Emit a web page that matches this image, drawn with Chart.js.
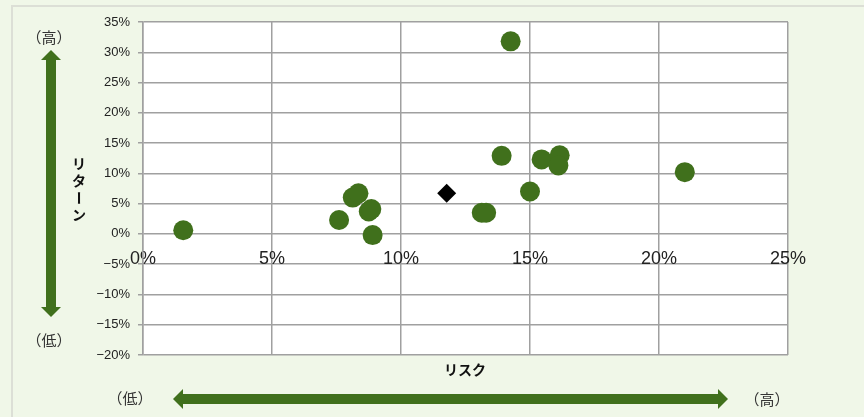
<!DOCTYPE html>
<html>
<head>
<meta charset="utf-8">
<script src="https://cdn.jsdelivr.net/npm/chart.js@4"></script>
<style>
  html, body { margin: 0; padding: 0; background: #f0f7e8; }
  #wrap { position: relative; width: 864px; height: 417px; overflow: hidden; }
  #frame { position: absolute; left: 11px; top: 5px; width: 900px; height: 500px;
           border-top: 2px solid #dcdfd6; border-left: 2px solid #dcdfd6; box-sizing: border-box; }
  canvas { position: absolute; left: 0; top: 0; }
</style>
</head>
<body>
<div id="wrap">
  <div id="frame"></div>
  <canvas id="myChart" width="864" height="417"></canvas>
</div>
<script>
// fund risk (x, %) and return (y, %)
var fundRisk   = [1.56, 7.6, 8.13, 8.35, 8.75, 8.85, 8.9, 13.13, 13.3, 13.9, 15.0, 15.45, 16.15, 16.1, 14.25, 21.0];
var fundReturn = [0.6, 2.3, 6.0, 6.7, 3.7, 4.1, -0.2, 3.5, 3.5, 12.9, 7.0, 12.3, 13.0, 11.3, 31.8, 10.2];
// the portfolio (diamond)
var portRisk   = [11.77];
var portReturn = [6.7];

var xTicks = [0, 5, 10, 15, 20, 25];
var yTicks = [-20, -15, -10, -5, 0, 5, 10, 15, 20, 25, 30, 35];

var green = '#40701c';
var tickFont = '"Liberation Sans Narrow", "Liberation Sans", Arial, sans-serif';

function toPoints(xs, ys) {
    return xs.map(function (x, i) { return { x: x, y: ys[i] }; });
}

function pct(v) {
    return (v < 0 ? '\u2212' + (-v) : v) + '%';
}

// white plot area + arrows and side labels
var decorations = {
    id: 'decorations',
    beforeDraw: function (chart) {
        var a = chart.chartArea, c = chart.ctx;
        c.save();
        c.fillStyle = '#ffffff';
        c.fillRect(a.left, a.top, a.right - a.left, a.bottom - a.top);
        c.restore();
    },
    afterDraw: function (chart) {
        var c = chart.ctx;
        c.save();
        c.fillStyle = green;

        // vertical double arrow
        c.fillRect(46, 59, 10, 249);
        c.beginPath(); c.moveTo(51, 50); c.lineTo(61, 60); c.lineTo(41, 60); c.closePath(); c.fill();
        c.beginPath(); c.moveTo(51, 317); c.lineTo(61, 307); c.lineTo(41, 307); c.closePath(); c.fill();

        // horizontal double arrow
        c.fillRect(182, 394, 537, 10);
        c.beginPath(); c.moveTo(173, 399); c.lineTo(183, 389); c.lineTo(183, 409); c.closePath(); c.fill();
        c.beginPath(); c.moveTo(728, 399); c.lineTo(718, 389); c.lineTo(718, 409); c.closePath(); c.fill();

        c.fillStyle = '#333';
        c.textAlign = 'center';
        c.textBaseline = 'middle';
        c.font = '15px "Noto Sans CJK JP", sans-serif';
        c.fillText('（高）', 49, 37);
        c.fillText('（低）', 49, 340);
        c.fillText('（低）', 130, 398);
        c.fillText('（高）', 767, 399);

        c.fillStyle = '#111';
        c.font = 'bold 14px "Noto Sans CJK JP", sans-serif';
        var word = ['リ', 'タ', 'ー', 'ン'];
        word.forEach(function (ch, i) {
            if (ch === 'ー') {
                c.save();
                c.translate(79, 164 + i * 17);
                c.rotate(Math.PI / 2);
                c.fillText(ch, 0, 0);
                c.restore();
            } else {
                c.fillText(ch, 79, 164 + i * 17);
            }
        });
        c.fillText('リスク', 465, 370);
        c.restore();
    }
};

var ctx = document.getElementById('myChart').getContext('2d');
var chart = new Chart(ctx, {
    type: 'scatter',
    data: {
        datasets: [{
            label: 'funds',
            data: toPoints(fundRisk, fundReturn),
            backgroundColor: green,
            borderColor: green,
            borderWidth: 0,
            pointRadius: 10,
            pointHoverRadius: 10
        }, {
            label: 'portfolio',
            data: toPoints(portRisk, portReturn),
            backgroundColor: '#000',
            borderColor: '#000',
            borderWidth: 0,
            pointStyle: 'rectRot',
            pointRadius: 9.5,
            pointHoverRadius: 9.5
        }]
    },
    options: {
        responsive: false,
        animation: false,
        layout: { padding: { left: 83, top: 22, right: 76, bottom: 62 } },
        plugins: {
            legend: { display: false },
            tooltip: { enabled: false }
        },
        scales: {
            x: {
                type: 'linear',
                position: { y: 0 },
                min: 0,
                max: 25,
                afterBuildTicks: function (s) { s.ticks = xTicks.map(function (v) { return { value: v }; }); },
                grid: { color: '#a0a0a0', lineWidth: 1.5, tickLength: 0 },
                border: { display: false },
                ticks: {
                    padding: 14,
                    color: '#222',
                    font: { family: tickFont, size: 18 },
                    callback: function (v) { return v + '%'; }
                }
            },
            y: {
                type: 'linear',
                min: -20,
                max: 35,
                afterBuildTicks: function (s) { s.ticks = yTicks.map(function (v) { return { value: v }; }); },
                afterFit: function (s) { s.width = 60; },
                grid: { color: '#a0a0a0', lineWidth: 1.5, tickLength: 5 },
                border: { color: '#a0a0a0', width: 1.5 },
                ticks: {
                    padding: 8,
                    color: '#222',
                    font: { family: tickFont, size: 13 },
                    callback: pct
                }
            }
        }
    },
    plugins: [decorations]
});
</script>
</body>
</html>
